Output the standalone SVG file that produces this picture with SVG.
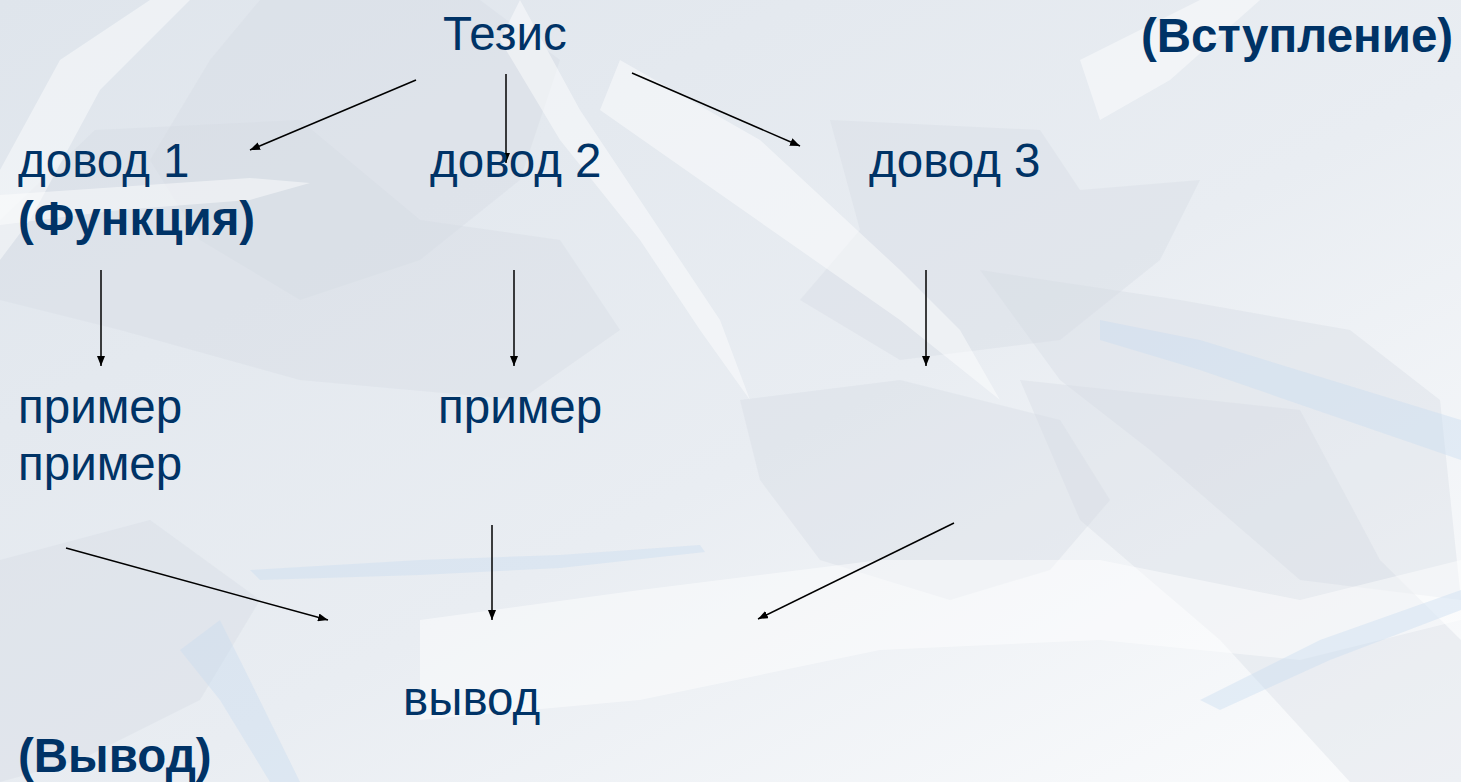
<svg xmlns="http://www.w3.org/2000/svg" width="1461" height="782" viewBox="0 0 1461 782">
  <defs>
    <linearGradient id="bg" x1="0" y1="0" x2="1" y2="1">
      <stop offset="0" stop-color="#dfe5ec"/>
      <stop offset="0.55" stop-color="#e9edf2"/>
      <stop offset="1" stop-color="#fbfcfd"/>
    </linearGradient>
    <marker id="arr" viewBox="0 0 10 8" refX="10" refY="4" markerWidth="10" markerHeight="8" markerUnits="userSpaceOnUse" orient="auto">
      <path d="M0,0 L10,4 L0,8 Z" fill="#000"/>
    </marker>
    <style>
      .t { font-family: "Liberation Sans", Arial, sans-serif; font-size: 47.5px; fill: #003366; }
      .b { font-weight: bold; }
      .c { stroke: #000; stroke-width: 1.5; fill: none; marker-end: url(#arr); }
      .dk { fill: #d3dae3; opacity: 0.35; }
      .lt { fill: #ffffff; opacity: 0.45; }
      .bl { fill: #c9dcef; opacity: 0.4; }
    </style>
  </defs>

  <g id="background">
    <rect width="1461" height="782" fill="url(#bg)"/>
    <polygon class="dk" points="260,0 480,0 560,60 520,180 420,260 300,300 200,240 150,160 210,60"/>
    <polygon class="dk" points="95,130 300,120 420,220 560,240 620,330 520,400 300,380 120,330 0,300 0,220"/>
    <polygon class="dk" points="830,120 1040,130 1080,190 1200,180 1160,260 1060,340 900,360 800,300 860,230"/>
    <polygon class="dk" points="980,270 1180,300 1350,330 1440,400 1461,600 1300,580 1150,450 1060,380"/>
    <polygon class="dk" points="1020,380 1300,410 1380,560 1461,640 1461,782 1350,782 1220,640 1080,520"/>
    <polygon class="dk" points="740,400 900,380 1060,420 1110,500 1050,570 950,600 820,560 760,480"/>
    <polygon class="dk" points="0,560 150,520 260,600 200,700 80,760 0,782"/>
    <polygon class="lt" points="0,195 250,178 310,183 250,200 120,210 0,225"/>
    <polygon class="lt" points="620,60 760,140 900,270 960,330 1000,400 900,320 800,250 700,180 600,110"/>
    <polygon class="lt" points="0,170 60,60 150,0 190,0 100,90 30,220 0,260"/>
    <polygon class="lt" points="520,0 580,110 640,200 720,320 750,400 700,330 640,240 560,140 500,40"/>
    <polygon class="lt" points="1080,60 1200,0 1260,0 1170,80 1100,120"/>
    <polygon class="lt" points="420,620 640,590 880,560 1100,560 1300,600 1461,560 1461,620 1300,660 1100,640 880,650 640,700 420,720"/>
    <polygon class="bl" points="250,570 420,560 560,555 700,545 705,552 560,568 420,575 260,580"/>
    <polygon class="bl" points="180,650 220,620 240,660 300,782 270,782 220,700"/>
    <polygon class="bl" points="1100,320 1200,340 1461,420 1461,460 1200,370 1100,340"/>
    <polygon class="bl" points="1200,700 1320,640 1461,590 1461,610 1330,660 1220,710"/>
  </g>

  <g id="connectors">
    <line class="c" x1="416" y1="80" x2="250" y2="150"/>
    <line class="c" x1="506" y1="74" x2="506" y2="163"/>
    <line class="c" x1="632" y1="73" x2="800" y2="146"/>
    <line class="c" x1="101" y1="270" x2="101" y2="366"/>
    <line class="c" x1="514" y1="270" x2="514" y2="366"/>
    <line class="c" x1="926" y1="270" x2="926" y2="366"/>
    <line class="c" x1="66" y1="548" x2="328" y2="620"/>
    <line class="c" x1="492" y1="525" x2="492" y2="620"/>
    <line class="c" x1="954" y1="523" x2="758" y2="619"/>
  </g>

  <g id="thesis"><text class="t" x="443" y="50">Тезис</text></g>
  <g id="intro"><text class="t b" x="1141" y="52">(Вступление)</text></g>
  <g id="arg1">
    <text class="t" x="18" y="177">довод 1</text>
    <text class="t b" x="18" y="235">(Функция)</text>
  </g>
  <g id="arg2"><text class="t" x="430" y="177">довод 2</text></g>
  <g id="arg3"><text class="t" x="869" y="177">довод 3</text></g>
  <g id="ex1">
    <text class="t" x="18" y="423">пример</text>
    <text class="t" x="18" y="480">пример</text>
  </g>
  <g id="ex2"><text class="t" x="438" y="423">пример</text></g>
  <g id="conclusion"><text class="t" x="403" y="715">вывод</text></g>
  <g id="conclusion-label"><text class="t b" x="18" y="772">(Вывод)</text></g>
</svg>
